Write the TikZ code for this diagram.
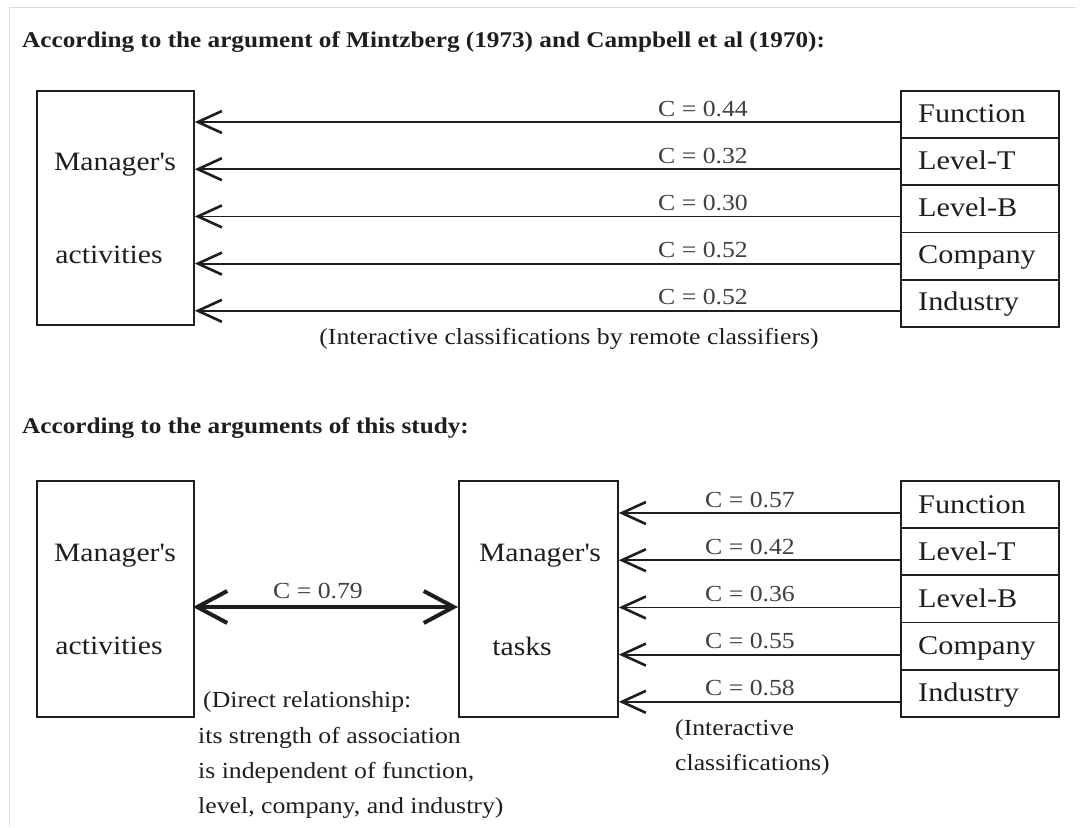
\documentclass[tikz,border=0pt]{standalone}
\usepackage{fontspec}
\setmainfont[FakeStretch=1.12]{Liberation Serif}
\usetikzlibrary{arrows.meta}
\definecolor{ink}{HTML}{1E1E1E}
\definecolor{frame}{HTML}{DADADA}
\tikzset{
  box/.style={draw=ink, line width=1.8pt, anchor=north west, inner sep=0pt},
  boxtext/.style={text=ink, anchor=base, inner sep=0pt, font=\fontsize{26.5}{30}\selectfont},
  facttext/.style={text=ink, anchor=base west, inner sep=0pt, font=\fontsize{27}{30}\selectfont},
  clabel/.style={text=ink!85, anchor=base, inner sep=0pt, font=\fontsize{23}{27}\selectfont},
  note/.style={text=ink, anchor=base west, inner sep=0pt, font=\fontsize{23}{27}\selectfont},
  heading/.style={text=ink, anchor=base west, inner sep=0pt, font=\fontsize{22.5}{26}\selectfont\bfseries},
  arr/.style={draw=ink, line width=1.8pt,
    -{Straight Barb[length=24pt, width=22pt, line width=2.6pt]}},
  dblarr/.style={draw=ink, line width=4pt,
    {Straight Barb[length=30pt, width=32pt, line width=4pt]}-{Straight Barb[length=30pt, width=32pt, line width=4pt]}},
}
\newcommand{\mgr}{Manager\textquotesingle s}
\begin{document}
\begin{tikzpicture}[x=1pt, y=-1pt]
\useasboundingbox (0,0) rectangle (1083,827);
% light page frame
\draw[frame, line width=1pt] (9,827) -- (9,7) -- (1076,7);

% ---------- upper diagram ----------
\node[heading] (h1) at (22,47) {According to the argument of Mintzberg (1973) and Campbell et al (1970):};

\node[box, minimum width=157pt, minimum height=234pt] (act1) at (36,90) {};
\node[boxtext] (act1a) at (115,170) {\mgr};
\node[boxtext] (act1b) at (109,263) {activities};

\foreach \n/\t [count=\i from 0] in {fa/Function, fb/Level-T, fc/Level-B, fd/Company, fe/Industry} {
  \node[box, minimum width=158pt, minimum height=47.2pt] (\n) at (900,90+47.2*\i) {};
  \node[facttext] (\n t) at (918,122+47.2*\i) {\t};
  \coordinate (\n s) at (900,122+47.2*\i);
}
\foreach \n/\c in {fa/0.44, fb/0.32, fc/0.30, fd/0.52, fe/0.52} {
  \draw[arr] (\n s) -- (\n s -| act1.east);
  \node[clabel] at ([yshift=6pt]\n s -| 703,0) {C = \c};
}
\node[note, anchor=base] (n1) at (569,344) {(Interactive classifications by remote classifiers)};

% ---------- lower diagram ----------
\node[heading] (h2) at (22,433) {According to the arguments of this study:};

\node[box, minimum width=157pt, minimum height=236pt] (act2) at (36,480) {};
\node[boxtext] (act2a) at (115,561) {\mgr};
\node[boxtext] (act2b) at (109,654) {activities};

\node[box, minimum width=159pt, minimum height=236pt] (task) at (458,480) {};
\node[boxtext] (taska) at (540,561) {\mgr};
\node[boxtext] (taskb) at (522,655) {tasks};

\coordinate (mid) at (193,607);
\draw[dblarr] (mid) -- (mid -| task.west);
\node[clabel] (c79) at (318,598) {C = 0.79};

\foreach \n/\t [count=\i from 0] in {ga/Function, gb/Level-T, gc/Level-B, gd/Company, ge/Industry} {
  \node[box, minimum width=158pt, minimum height=47.2pt] (\n) at (900,480+47.2*\i) {};
  \node[facttext] (\n t) at (918,513+47.2*\i) {\t};
  \coordinate (\n s) at (900,513+47.2*\i);
}
\foreach \n/\c in {ga/0.57, gb/0.42, gc/0.36, gd/0.55, ge/0.58} {
  \draw[arr] (\n s) -- (\n s -| task.east);
  \node[clabel] at ([yshift=6pt]\n s -| 750,0) {C = \c};
}

\node[note] (d1) at (203,707) {(Direct relationship:};
\node[note] (d2) at (198,743) {its strength of association};
\node[note] (d3) at (198,778) {is independent of function,};
\node[note] (d4) at (198,813) {level, company, and industry)};

\node[note] (i1) at (675,735) {(Interactive};
\node[note] (i2) at (675,770) {classifications)};
\end{tikzpicture}
\end{document}
